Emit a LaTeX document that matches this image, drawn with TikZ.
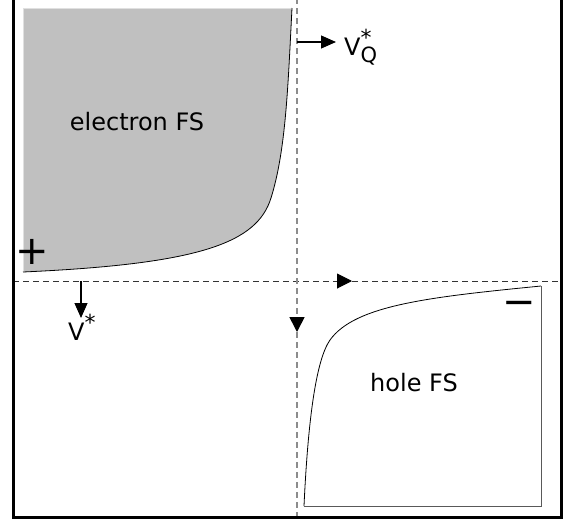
\documentclass[tikz,border=0pt]{standalone}
\usepackage{fontspec}
\setmainfont{DejaVu Sans}
\usetikzlibrary{arrows.meta,backgrounds,positioning}
\pgfdeclarelayer{edgelayer}
\pgfdeclarelayer{nodelayer}
\pgfsetlayers{background,edgelayer,nodelayer,main}
\tikzstyle{none}=[inner sep=0mm]
\tikzstyle{efs}=[fill={rgb,255:red,192;green,192;blue,192}]
\tikzstyle{fsline}=[draw=black,line width=0.8pt]
\tikzstyle{boxline}=[draw=black!65,line width=0.9pt]
\tikzstyle{hdash}=[draw=black!80,line width=1pt,dash pattern=on 6pt off 4pt]
\tikzstyle{vdash}=[draw=black!45,line width=1.6pt,dash pattern=on 6pt off 4pt]
\tikzstyle{marker}=[-{Triangle[length=15pt,width=15pt,color=black]}]
\tikzstyle{vec}=[line width=1.2pt,-{Triangle[length=15pt,width=13pt]}]
\tikzstyle{lbl}=[inner sep=0mm,font=\fontsize{24}{28}\selectfont]
\tikzstyle{vlbl}=[inner sep=0mm,anchor=base west,font=\fontsize{24}{28}\selectfont]
\tikzstyle{sgn}=[inner sep=0mm,anchor=base,font=\fontsize{40}{44}\selectfont]
\tikzstyle{frame}=[line width=3pt]
\newcommand{\supsub}[2]{\rlap{\raisebox{0.38em}{\fontsize{22}{24}\selectfont #1}}\raisebox{-0.3em}{\fontsize{21}{24}\selectfont #2}}

\begin{document}
\begin{tikzpicture}[x=1pt,y=-1pt]
	\useasboundingbox (0,0) rectangle (577,520);
	\begin{pgfonlayer}{nodelayer}
		\node [style=lbl] (elabel) at (137,122) {electron FS};
		\node [style=lbl] (hlabel) at (414,383) {hole FS};
		\node [style=vlbl] (vq) at (344,55) {V\supsub{*}{Q}};
		\node [style=vlbl] (v) at (68,340) {V\supsub{*}{}};
		\node [style=sgn] (plus) at (32,264) {+};
		\node [style=sgn] (minus) at (519,315) {−};
		\coordinate (hw) at (13,281);
		\coordinate (hm) at (352,281);
		\coordinate (he) at (561,281);
		\coordinate (vn) at (297,-2);
		\coordinate (vm) at (297,332);
		\coordinate (vs) at (297,522);
		\coordinate (vq tail) at (297,42);
		\coordinate (vq tip) at (336,42);
		\coordinate (v tail) at (81,281);
		\coordinate (v tip) at (81,318);
	\end{pgfonlayer}
	\begin{pgfonlayer}{background}
		% electron pocket
		\path [style=efs] (23,272) -- (23,8) -- (292,8)
			.. controls (288,85) and (286,150) .. (271,198)
			.. controls (257,243) and (200,264) .. (23,272) -- cycle;
		\draw [draw=black!12,line width=0.8pt] (23,272) -- (23,8) -- (292,8);
		\draw [style=fsline] (292,8)
			.. controls (288,85) and (286,150) .. (271,198)
			.. controls (257,243) and (200,264) .. (23,272);
		% hole pocket
		\draw [style=fsline] (541,286)
			.. controls (430,297) and (355,305) .. (330,340)
			.. controls (316,360) and (308,420) .. (304,506);
		\draw [style=boxline] (304,506) -- (541,506) -- (541,286);
	\end{pgfonlayer}
	\begin{pgfonlayer}{edgelayer}
		\draw [style=hdash,style=marker] (hw) -- (hm);
		\draw [style=hdash] (hm) -- (he);
		\draw [style=vdash,style=marker] (vn) -- (vm);
		\draw [style=vdash] (vm) -- (vs);
		\draw [style=vec] (vq tail) to (vq tip);
		\draw [style=vec] (v tail) to (v tip);
		\draw [style=frame] (13.5,-10) rectangle (561,517.5);
	\end{pgfonlayer}
\end{tikzpicture}
\end{document}
